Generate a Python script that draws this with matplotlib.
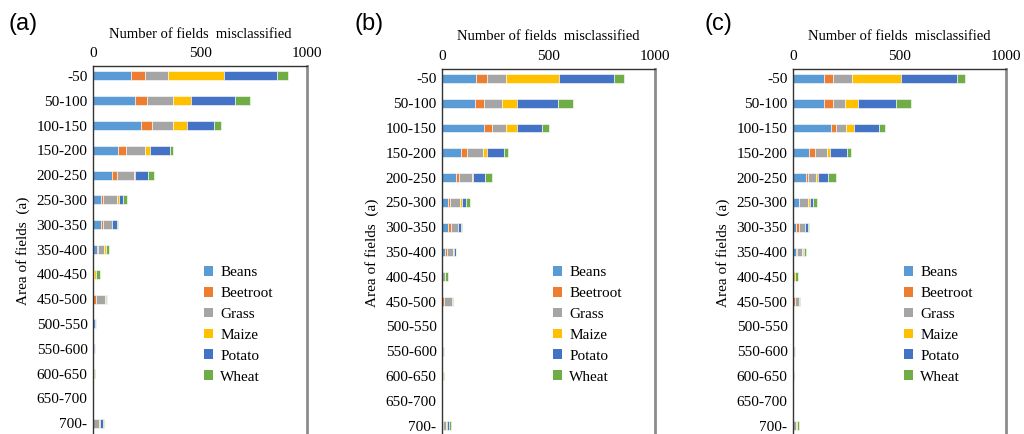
import matplotlib
matplotlib.use("Agg")
import matplotlib.pyplot as plt
from matplotlib.patches import Patch
import numpy as np

# Field-area classes (ha) and crop classes
areas = ["-50", "50-100", "100-150", "150-200", "200-250", "250-300", "300-350",
         "350-400", "400-450", "450-500", "500-550", "550-600", "600-650",
         "650-700", "700-"]
crops = ["Beans", "Beetroot", "Grass", "Maize", "Potato", "Wheat"]
colors = ["#5B9BD5", "#ED7D31", "#A5A5A5", "#FFC000", "#4472C4", "#70AD47"]

# Misclassified fields per area class, one list per crop -- model (a)
a_beans    = [179, 197, 224, 118, 91, 38, 36, 17, 3, 0, 10, 3, 0, 0, 0]
a_beetroot = [64, 54, 50, 34, 20, 7, 11, 5, 0, 16, 0, 0, 0, 0, 0]
a_grass    = [107, 125, 102, 91, 82, 68, 44, 31, 3, 42, 0, 0, 0, 0, 28]
a_maize    = [264, 80, 63, 25, 4, 8, 0, 7, 6, 3, 0, 0, 5, 4, 5]
a_potato   = [248, 209, 125, 91, 62, 17, 20, 3, 0, 6, 4, 6, 0, 0, 12]
a_wheat    = [47, 70, 32, 17, 28, 19, 7, 14, 20, 0, 0, 0, 3, 0, 8]

# model (b)
b_beans    = [158, 153, 197, 91, 67, 27, 27, 16, 2, 0, 0, 5, 0, 0, 3]
b_beetroot = [53, 44, 38, 28, 13, 11, 15, 6, 0, 8, 5, 0, 0, 0, 0]
b_grass    = [89, 85, 65, 73, 62, 47, 32, 31, 10, 39, 0, 0, 0, 0, 16]
b_maize    = [251, 69, 51, 19, 4, 7, 0, 5, 0, 0, 0, 0, 6, 5, 3]
b_potato   = [257, 192, 120, 82, 56, 21, 15, 6, 0, 0, 0, 6, 0, 0, 11]
b_wheat    = [47, 70, 31, 15, 31, 17, 3, 3, 16, 5, 0, 0, 5, 0, 8]

# model (c)
c_beans    = [144, 144, 180, 77, 63, 27, 16, 16, 2, 0, 0, 3, 0, 0, 0]
c_beetroot = [43, 43, 22, 26, 6, 3, 14, 4, 0, 9, 0, 0, 0, 0, 0]
c_grass    = [91, 58, 45, 58, 39, 42, 28, 21, 0, 17, 4, 0, 0, 0, 14]
c_maize    = [231, 58, 39, 11, 8, 8, 0, 4, 6, 0, 0, 0, 0, 4, 3]
c_potato   = [261, 180, 117, 81, 50, 14, 14, 8, 0, 0, 0, 6, 0, 0, 3]
c_wheat    = [39, 72, 31, 20, 36, 19, 5, 6, 14, 9, 0, 0, 5, 0, 8]

panels = [
    ("(a)", [a_beans, a_beetroot, a_grass, a_maize, a_potato, a_wheat]),
    ("(b)", [b_beans, b_beetroot, b_grass, b_maize, b_potato, b_wheat]),
    ("(c)", [c_beans, c_beetroot, c_grass, c_maize, c_potato, c_wheat]),
]

W, H = 1024, 434
fig = plt.figure(figsize=(W / 100, H / 100), dpi=100)
serif = ["Liberation Serif", "DejaVu Serif"]
fs = 11

# pixel geometry of each panel: x of 0, x of 1000, top of plot box,
# panel-label x, legend x
geom = [
    (93, 307, 66, 9, 204),
    (442, 655, 68.5, 355, 553),
    (793, 1006, 68.5, 705, 904),
]
row_h = 24.8

for (label, series), (x0, x1, top, lab_x, leg_x) in zip(panels, geom):
    bottom = top + (14.5 + 0.4) * row_h
    ax = fig.add_axes([x0 / W, 1 - bottom / H, (x1 - x0) / W, (bottom - top) / H])
    y = np.arange(len(areas))
    left = np.zeros(len(areas))
    for vals, col in zip(series, colors):
        v = np.array(vals, dtype=float)
        ax.barh(y, v, left=left, height=0.36, color=col,
                edgecolor="white", linewidth=0.4)
        left += v
    ax.set_xlim(0, 1000)
    ax.set_ylim(14.5, -0.4)
    ax.set_yticks(y)
    ax.set_yticklabels(areas, fontfamily=serif, fontsize=fs)
    ax.set_xticks([0, 500, 1000])
    ax.set_xticklabels(["0", "500", "1000"], fontfamily=serif, fontsize=fs)
    ax.xaxis.tick_top()
    ax.xaxis.set_label_position("top")
    ax.tick_params(axis="both", length=0)
    ax.tick_params(axis="x", pad=4)
    ax.tick_params(axis="y", pad=4)
    ax.set_xlabel("Number of fields  misclassified", fontfamily=serif,
                  fontsize=10.5, labelpad=7)
    ax.set_ylabel("Area of fields  (a)", fontfamily=serif, fontsize=fs,
                  labelpad=5)
    for s in ("left", "top"):
        ax.spines[s].set_color("#333333")
        ax.spines[s].set_linewidth(1.0)
    ax.spines["right"].set_color("#8c8c8c")
    ax.spines["right"].set_linewidth(2.0)
    ax.spines["bottom"].set_visible(False)

    handles = [Patch(facecolor=c, edgecolor="none", label=n)
               for n, c in zip(crops, colors)]
    ax.legend(handles=handles, loc="upper left",
              bbox_to_anchor=(leg_x / W, 1 - 266 / H),
              bbox_transform=fig.transFigure, frameon=False,
              prop={"family": serif, "size": fs},
              handlelength=0.6, handleheight=0.6, handletextpad=0.45,
              labelspacing=0.5, borderpad=0, borderaxespad=0)

    fig.text(lab_x / W, 1 - 24 / H, label, fontfamily="Liberation Sans",
             fontsize=17, ha="left", va="center")

fig.savefig("out.png", dpi=100)
